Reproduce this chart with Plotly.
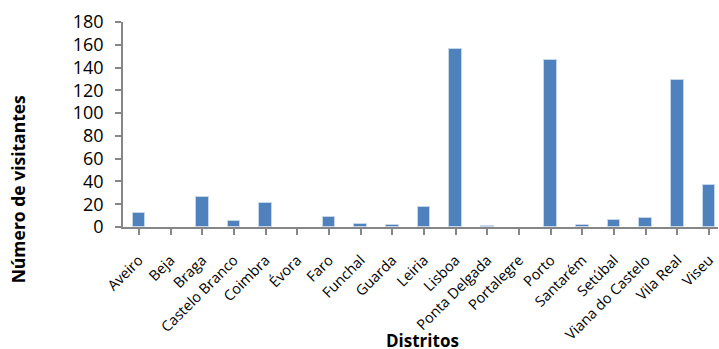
import plotly.graph_objects as go

# Visitors per district
distritos = ["Aveiro", "Beja", "Braga", "Castelo Branco", "Coimbra", "Évora", "Faro",
             "Funchal", "Guarda", "Leiria", "Lisboa", "Ponta Delgada", "Portalegre",
             "Porto", "Santarém", "Setúbal", "Viana do Castelo", "Vila Real", "Viseu"]
visitantes = [12, 0, 26, 5, 21, 0, 9, 3, 2, 18, 156, 1, 0, 147, 2, 6, 8, 129, 37]

y_ticks = list(range(0, 181, 20))

FONT = "Open Sans, Liberation Sans, sans-serif"
AXIS_GREY = "#868686"

# no outline on empty bars so they leave no stub on the axis
outline_widths = [1 if v > 0 else 0 for v in visitantes]

fig = go.Figure(
    go.Bar(
        x=list(range(len(distritos))),
        y=visitantes,
        width=0.4,
        marker=dict(color="#4F81BD", line=dict(color="#C6D6EA", width=outline_widths)),
        hoverinfo="x+y",
    )
)

fig.update_layout(
    width=719,
    height=349,
    margin=dict(l=123, r=1, t=22, b=122),
    paper_bgcolor="white",
    plot_bgcolor="white",
    showlegend=False,
    bargap=0,
    font=dict(family=FONT, color="black"),
)

fig.update_xaxes(
    range=[-0.5, 18.28],
    automargin=False,
    tickmode="array",
    tickvals=list(range(len(distritos))),
    ticktext=distritos,
    tickangle=-45,
    tickson="boundaries",
    ticks="outside",
    ticklen=6,
    tickwidth=1.5,
    tickcolor=AXIS_GREY,
    showline=True,
    linecolor=AXIS_GREY,
    linewidth=2,
    showgrid=False,
    zeroline=False,
    tickfont=dict(family=FONT, size=14.5, color="black"),
    ticklabelstandoff=11,
)

fig.update_yaxes(
    range=[0, 180],
    automargin=False,
    tickmode="array",
    tickvals=y_ticks,
    ticktext=[str(v) for v in y_ticks],
    ticks="outside",
    ticklen=6,
    tickwidth=1.5,
    tickcolor=AXIS_GREY,
    showline=True,
    linecolor=AXIS_GREY,
    linewidth=1.5,
    showgrid=False,
    zeroline=False,
    tickfont=dict(family=FONT, size=18, color="black"),
    ticklabelstandoff=8,
)

# Axis titles
fig.add_annotation(
    text="<b>Distritos</b>", xref="paper", yref="paper",
    x=0.503, y=-0.556, xanchor="center", yanchor="middle", borderpad=0,
    showarrow=False, font=dict(family=FONT, size=17, color="black"),
)
fig.add_annotation(
    text="<b>Número de visitantes</b>", xref="paper", yref="paper",
    x=-0.176, y=0.185, xanchor="center", yanchor="middle", textangle=-90,
    showarrow=False, font=dict(family=FONT, size=17.5, color="black"),
)

fig.write_html("out.html")
